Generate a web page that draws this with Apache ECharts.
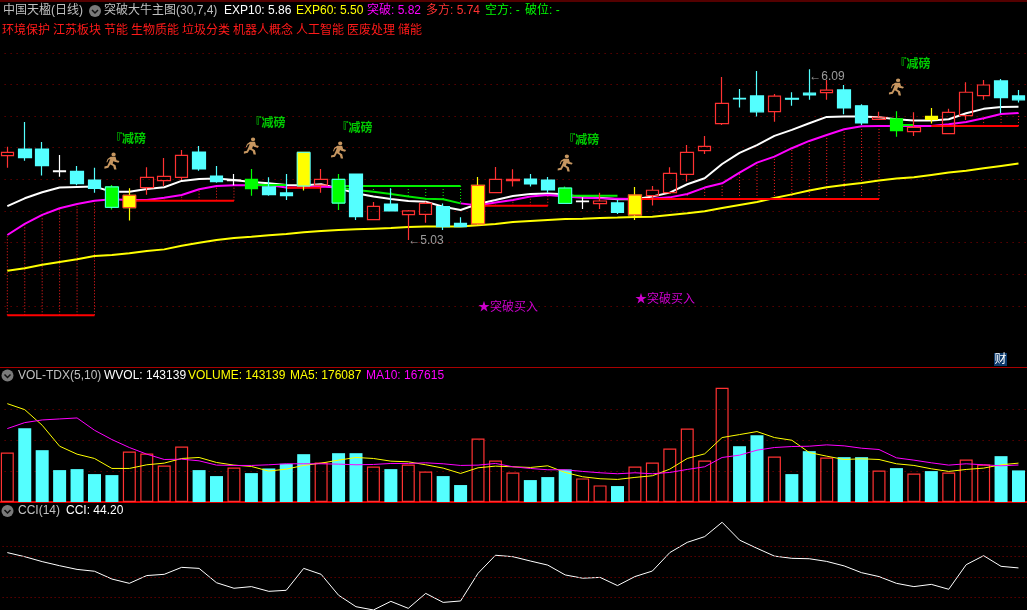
<!DOCTYPE html>
<html><head><meta charset="utf-8">
<style>html,body{margin:0;padding:0;background:#000}#c{width:1027px;height:610px}</style>
<script src="https://cdn.jsdelivr.net/npm/echarts@6/dist/echarts.min.js"></script>
</head><body><div id="c"></div>
<script>
const n = null;
const opens  = [5.550,5.592,5.592,5.453,5.451,5.396,5.352,5.221,5.348,5.392,5.413,5.573,5.421,5.392,5.400,5.352,5.314,5.358,5.364,5.400,5.434,5.145,5.244,5.177,5.179,5.227,5.122,5.118,5.316,5.392,5.402,5.396,5.345,5.259,5.246,5.251,5.175,5.297,5.316,5.432,5.582,5.753,5.913,5.928,5.829,5.913,5.945,5.949,5.966,5.865,5.780,5.782,5.702,5.780,5.689,5.803,5.930,6.023,5.928];
const closes = [5.571,5.537,5.487,5.449,5.373,5.343,5.223,5.299,5.413,5.419,5.552,5.466,5.386,5.396,5.341,5.303,5.297,5.571,5.400,5.250,5.164,5.229,5.200,5.200,5.248,5.101,5.101,5.362,5.400,5.400,5.371,5.333,5.248,5.263,5.263,5.191,5.301,5.331,5.438,5.571,5.609,5.881,5.909,5.827,5.926,5.907,5.934,5.964,5.852,5.757,5.793,5.708,5.729,5.799,5.824,5.951,5.997,5.917,5.903];
const lows   = [5.474,5.518,5.424,5.417,5.362,5.316,5.210,5.139,5.303,5.358,5.396,5.455,5.379,5.362,5.297,5.297,5.269,5.329,5.316,5.206,5.143,5.145,5.200,5.016,5.126,5.080,5.101,5.111,5.316,5.354,5.354,5.316,5.244,5.213,5.213,5.181,5.143,5.234,5.307,5.386,5.561,5.744,5.854,5.797,5.765,5.865,5.903,5.903,5.812,5.744,5.776,5.670,5.675,5.753,5.689,5.776,5.903,5.818,5.886];
const highs  = [5.607,5.763,5.637,5.554,5.485,5.474,5.364,5.343,5.476,5.535,5.586,5.611,5.485,5.434,5.466,5.413,5.434,5.571,5.466,5.434,5.434,5.257,5.343,5.206,5.259,5.248,5.160,5.415,5.478,5.464,5.434,5.415,5.354,5.286,5.316,5.269,5.352,5.358,5.476,5.618,5.675,6.048,5.972,6.086,5.940,5.951,6.097,6.029,5.997,5.875,5.827,5.831,5.824,5.852,5.846,6.014,6.029,6.035,5.966];
const kindList = ["r","c","c","w","c","c","g","y","r","r","r","c","c","w","g","c","c","y","r","g","c","r","c","r","r","c","c","y","r","r","c","c","g","w","r","c","y","r","r","r","r","r","c","c","r","c","c","r","c","c","r","g","r","y","r","r","r","c","c"];
const edgeCandles = {6:"#54ffff",19:"#54ffff",32:"#54ffff",17:"#54ffff",7:"#ff3232",27:"#ff3232",36:"#ff3232"};
const exp10 = [5.231,5.280,5.318,5.348,5.352,5.354,5.322,5.322,5.339,5.350,5.390,5.402,5.405,5.396,5.383,5.375,5.364,5.362,5.369,5.343,5.312,5.291,5.276,5.263,5.259,5.227,5.206,5.244,5.269,5.295,5.307,5.310,5.305,5.286,5.284,5.274,5.274,5.291,5.316,5.369,5.407,5.497,5.567,5.616,5.675,5.713,5.755,5.795,5.797,5.797,5.793,5.780,5.772,5.772,5.780,5.818,5.846,5.858,5.860];
const exp60 = [4.822,4.837,4.860,4.877,4.894,4.915,4.921,4.932,4.947,4.957,4.980,4.999,5.016,5.029,5.037,5.046,5.054,5.065,5.073,5.080,5.084,5.088,5.092,5.099,5.101,5.101,5.101,5.109,5.118,5.130,5.137,5.143,5.149,5.151,5.156,5.158,5.162,5.164,5.175,5.185,5.198,5.219,5.238,5.257,5.282,5.305,5.329,5.350,5.364,5.377,5.392,5.405,5.413,5.428,5.443,5.455,5.470,5.485,5.500];
const breakOut = [5.048,5.118,5.175,5.217,5.244,5.265,5.274,5.270,5.270,5.284,5.301,5.337,5.358,5.362,5.362,5.364,5.348,5.350,5.354,5.348,n,n,n,n,n,n,5.248,5.234,5.253,5.270,5.291,5.301,5.291,5.284,5.280,5.278,5.276,5.278,5.286,5.307,5.348,5.375,5.442,5.506,5.544,5.597,5.643,5.681,5.717,5.736,5.738,5.738,5.738,5.738,5.748,5.763,5.786,5.814,5.820];
const breakWeak = [n,n,n,n,n,n,n,n,n,n,n,n,n,n,n,n,n,n,n,5.348,5.333,5.322,5.307,5.291,5.278,5.274,5.248,n,n,n,n,n,n,n,n,n,n,n,n,n,n,n,n,n,n,n,n,n,n,n,n,n,n,n,n,n,n,n,n];
const longStop = [4.54,4.54,4.54,4.54,4.54,4.54,n,5.265,5.265,5.265,5.265,5.265,5.265,5.265,n,n,5.347,5.347,5.347,n,n,n,n,n,n,n,n,5.233,5.233,5.233,5.233,5.233,n,n,n,n,5.276,5.276,5.276,5.276,5.276,5.276,5.276,5.276,5.276,5.276,5.276,5.276,5.276,5.276,5.276,n,n,5.738,5.738,5.738,5.738,5.738,5.738];
const shortStop = [n,n,n,n,n,n,n,n,n,n,n,n,n,n,5.364,5.364,5.364,n,n,5.358,5.358,5.358,5.358,5.358,5.358,5.358,5.358,n,n,n,n,n,5.297,5.297,5.297,5.297,n,n,n,n,n,n,n,n,n,n,n,n,n,n,n,5.744,5.744,n,n,n,n,n,n];
const volume = [224200,334100,234800,144500,149000,126400,121900,228800,219700,165600,251300,144500,117400,156500,130900,152000,173100,216700,179100,221200,221200,161000,149000,170100,138500,117400,76800,287500,188100,133900,99300,112900,147500,106900,75300,72200,161000,179100,242300,332600,188100,517700,252800,302500,206200,126400,230300,201700,203200,203200,143000,153500,129400,140000,133900,192600,170100,207700,143139];
const volKind = ["r","c","c","c","c","c","c","r","r","r","r","c","c","r","c","c","c","c","r","c","c","r","c","r","r","c","c","r","r","r","c","c","c","r","r","c","r","r","r","r","r","r","c","c","r","c","c","r","c","c","r","c","r","c","r","r","r","c","c"];
const volMa5 = [445500,418400,347700,252800,216700,197200,152000,152000,168600,176100,197200,201700,179100,167100,161000,140000,149000,165600,176100,189600,201700,197200,185100,182100,168600,153500,129400,155000,162500,159500,156500,164000,133900,114400,105400,102300,111400,118900,149000,197200,218200,292000,305500,319100,292000,279900,224200,207700,192600,195700,192600,173100,165600,150500,138500,147500,153500,168600,176087];
const volMa10 = [332600,359700,371700,376300,380800,325100,282900,246800,216700,192600,194100,186600,167100,165600,165600,168600,173100,173100,173100,171600,168600,170100,174600,174600,177600,173100,165600,167100,174600,159500,152000,146000,146000,138500,132400,127900,132400,127900,133900,147500,159500,201700,212200,234800,246800,251300,252800,258900,254300,243800,237800,200200,189600,177600,167100,173100,168600,164000,167615];
const cci = [119,99,75,55,37,28,-10,-31,7,13,47,42,-28,-55,-47,-70,-65,42,13,-89,-145,-161,-119,-153,-80,-124,-117,18,106,99,78,58,10,-6,-2,-42,2,29,119,169,197,267,180,140,102,91,89,76,54,21,2,-31,-47,-36,-60,60,104,52,44.2];
const cciLevels = [150,100,0,-100];
const signalIdx = [6,14,19,32,51];
const signalText = "『减磅";
const signalPrice = [5.662,5.763,5.732,5.656,6.137];
const runnerPrice = [5.516,5.611,5.586,5.504,5.985];
const buyIdx = [27,36];
const buyPrice = [4.599,4.650];
const buyText = "★突破买入";
const extremes = [[23,5.023,"←5.03"],[46,6.061,"←6.09"]];
const tags = ["环境保护","江苏板块","节能","生物质能","垃圾分类","机器人概念","人工智能","医废处理","储能"];
const days = opens.map((_,i)=>"D"+(i+1));

const FONT = '"Liberation Sans","Noto Sans CJK SC",sans-serif';
const RED="#ff3232", CYAN="#54ffff", GRID="#8c0000";
const styleFor = {r:{f:"transparent",b:RED},c:{f:CYAN,b:CYAN},w:{f:"#fff",b:"#fff"},g:{f:"#00ff00",b:"#00ff00"},y:{f:"#ffff00",b:"#ffff00"}};
const candleData = opens.map((o,i)=>{
  const s=styleFor[kindList[i]];
  return {value:[o,closes[i],lows[i],highs[i]],itemStyle:{color:s.f,color0:s.f,borderColor:s.b,borderColor0:s.b,borderColorDoji:s.b,borderWidth:1.2}};
});
const edgeData = Object.keys(edgeCandles).map(k=>[+k,opens[k],closes[k],edgeCandles[k]]);
const runner = "path://M9 0a2.2 2.2 0 1 1 0 4.4a2.2 2.2 0 1 1 0-4.4zM6 5h5l1 4 3 1-1 2-4-1-1-1-1 3 3 2 1 5h-2.4l-1-4-3-2-2 4-4 1v-2.4l3-1 2-5 1-3-2 1-1 3H1.6l1.2-4z";

function axes(i,extra){return Object.assign({gridIndex:i,scale:false,axisLine:{show:false},axisTick:{show:false},axisLabel:{show:false},splitLine:{show:true,lineStyle:{color:GRID,type:[1,5],width:1}}},extra);}
function xAxis(i,red){return {type:"category",gridIndex:i,data:days,boundaryGap:true,axisTick:{show:false},axisLabel:{show:false},splitLine:{show:false},axisLine:{show:red,onZero:false,lineStyle:{color:"#e00000",width:2}}};}
function ln(name,data,color,width,xi,z){return {name,type:"line",xAxisIndex:xi,yAxisIndex:xi,data,symbol:"none",connectNulls:false,clip:false,z:z||2,lineStyle:{color,width},itemStyle:{color},emphasis:{disabled:true}};}
function dotted(name,pairs,color){return {name,type:"custom",xAxisIndex:0,yAxisIndex:0,z:1,clip:false,data:pairs,
  renderItem:(p,api)=>{const a=api.coord([api.value(0),api.value(1)]),b=api.coord([api.value(0),api.value(2)]);
    return {type:"line",shape:{x1:a[0],y1:a[1],x2:b[0],y2:b[1]},style:{stroke:color,lineWidth:1,lineDash:[1,2]}};}};}
function textSeries(name,pts,color,dist,weight){return {name,type:"scatter",xAxisIndex:0,yAxisIndex:0,clip:false,z:6,symbolSize:0,silent:true,
  data:pts.map(p=>({value:[p[0],p[1]],label:{show:true,formatter:p[2],position:"right",distance:dist,offset:[0,2],color,fontSize:12,fontWeight:weight||"normal",fontFamily:FONT}}))};}

const dotRed=[],dotGreen=[];
longStop.forEach((s,i)=>{if(s!==null&&breakOut[i]!==null&&breakOut[i]>s)dotRed.push([i,s,breakOut[i]]);});
shortStop.forEach((s,i)=>{if(s!==null&&breakWeak[i]!==null&&breakWeak[i]<s)dotGreen.push([i,s,breakWeak[i]]);});

const txt=(x,y,t,c)=>({type:"text",x,y:y+1,silent:true,z:10,style:{text:t,fill:c,font:'12px '+FONT,textVerticalAlign:"middle",textBaseline:"middle"}});
const chev=(x,y)=>[{type:"circle",silent:true,z:10,shape:{cx:x,cy:y,r:6},style:{fill:"#7a7a7a"}},
  {type:"polyline",silent:true,z:11,shape:{points:[[x-3,y-1],[x,y+2],[x+3,y-1]]},style:{stroke:"#111",fill:"none",lineWidth:1.5}}];
const tagX=[2,53,104,131,182,233,296,347,398];
const graphic=[
  {type:"rect",silent:true,z:9,shape:{x:0,y:0.5,width:1027,height:1},style:{fill:"#a80000"}},
  {type:"rect",silent:true,z:9,shape:{x:0,y:367,width:1027,height:1},style:{fill:"#a80000"}},
  {type:"rect",silent:true,z:9,shape:{x:994,y:353,width:13,height:13},style:{fill:"#0c3a6c"}},
  txt(994.5,358.5,"财","#ffffff"),
  txt(3,10,"中国天楹(日线)","#c0c0c0"),...chev(95,11),
  txt(104,10,"突破大牛主图(30,7,4)","#c0c0c0"),
  txt(224,10,"EXP10: 5.86","#ffffff"),txt(296,10,"EXP60: 5.50","#ffff00"),
  txt(367,10,"突破: 5.82","#ff00ff"),txt(426,10,"多方: 5.74","#ff3232"),
  txt(485,10,"空方: -","#00ff00"),txt(525,10,"破位: -","#00ff00"),
  ...tags.map((t,i)=>txt(tagX[i],30,t,"#ff1a1a")),
  ...chev(7.5,375.5),
  txt(18,375,"VOL-TDX(5,10)","#c0c0c0"),txt(104,375,"WVOL: 143139","#ffffff"),
  txt(188,375,"VOLUME: 143139","#ffff00"),txt(290,375,"MA5: 176087","#ffff00"),txt(366,375,"MA10: 167615","#ff00ff"),
  ...chev(7.5,511),
  txt(18,510,"CCI(14)","#c0c0c0"),txt(66,510,"CCI: 44.20","#ffffff")
];

const gridBase={left:-1.4,width:1028.6,outerBoundsMode:"none"};
const chart=echarts.init(document.getElementById("c"),null,{renderer:"canvas"});
chart.setOption({
  backgroundColor:"#000",animation:false,tooltip:{show:false},legend:{show:false},
  grid:[Object.assign({top:52.9,height:252.9},gridBase),Object.assign({top:409.3,height:92.7},gridBase),Object.assign({top:536,height:74.8},gridBase)],
  xAxis:[xAxis(0,false),xAxis(1,true),xAxis(2,false)],
  yAxis:[axes(0,{type:"value",min:4.6,max:6.2,interval:0.2}),axes(1,{type:"value",min:0,max:420000,interval:140000}),axes(2,{type:"value",min:-165,max:200,splitLine:{show:false}})],
  graphic,
  series:[
    dotted("多方虚线",dotRed,"#ff2020"),
    dotted("空方虚线",dotGreen,"#00ff00"),
    ln("EXP60",exp60,"#ffff00",2,0),
    ln("EXP10",exp10,"#ffffff",2,0),
    ln("突破",breakOut,"#ff00ff",2,0),
    ln("突破弱",breakWeak,"#00e800",2,0),
    ln("多方",longStop,"#ff0000",2,0),
    ln("空方",shortStop,"#00f000",2,0),
    {name:"K",type:"candlestick",xAxisIndex:0,yAxisIndex:0,data:candleData,barWidth:13,clip:false,z:3,silent:true},
    {name:"K边",type:"custom",xAxisIndex:0,yAxisIndex:0,z:4,clip:false,data:edgeData,silent:true,
     renderItem:(p,api)=>{const a=api.coord([api.value(0),api.value(1)]),b=api.coord([api.value(0),api.value(2)]);
       return {type:"rect",shape:{x:a[0]-6.5,y:Math.min(a[1],b[1]),width:13,height:Math.abs(a[1]-b[1])},style:{fill:"none",stroke:edgeData[p.dataIndex][3],lineWidth:1}};}},
    {name:"跑",type:"scatter",xAxisIndex:0,yAxisIndex:0,clip:false,z:5,silent:true,symbol:runner,symbolSize:[15,17],itemStyle:{color:"#f7bb78"},
     data:signalIdx.map((x,i)=>[x,runnerPrice[i]])},
    textSeries("减磅",signalIdx.map((x,i)=>[x,signalPrice[i],signalText]),"#00ff00",-2,"bold"),
    textSeries("买入",buyIdx.map((x,i)=>[x,buyPrice[i],buyText]),"#ff00ff",0),
    textSeries("极值",extremes,"#c0c0c0",0),
    {name:"VOLbar",type:"bar",xAxisIndex:1,yAxisIndex:1,barWidth:13,clip:false,z:2,silent:true,
     data:volume.map((v,i)=>({value:v,itemStyle:volKind[i]==="r"?{color:"transparent",borderColor:RED,borderWidth:1.2}:{color:CYAN}}))},
    ln("MA5",volMa5,"#ffff00",1,1,3),
    ln("MA10",volMa10,"#ff00ff",1,1,3),
    Object.assign(ln("CCI",cci,"#ffffff",1,2,3),{markLine:{silent:true,symbol:"none",label:{show:false},animation:false,
      lineStyle:{color:GRID,type:[1,3],width:1},data:cciLevels.map(v=>({yAxis:v}))}})
  ]
});
</script></body></html>
